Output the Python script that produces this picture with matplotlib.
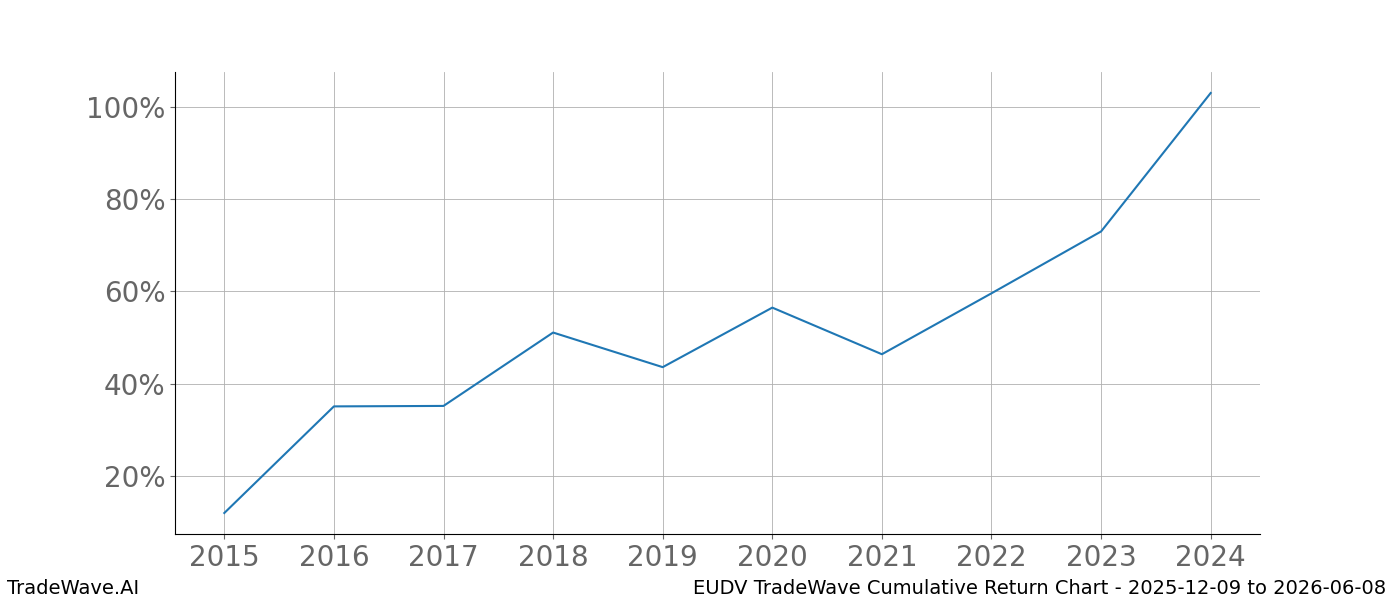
import matplotlib
matplotlib.use("Agg")
import matplotlib.pyplot as plt
from matplotlib.ticker import PercentFormatter

years = [2015, 2016, 2017, 2018, 2019, 2020, 2021, 2022, 2023, 2024]
cum_return = [12.0, 35.1, 35.2, 51.1, 43.6, 56.5, 46.4, 59.6, 73.0, 103.0]

fig, ax = plt.subplots(figsize=(14, 6), dpi=100)
ax.plot(years, cum_return, color="#1f77b4", lw=1.5)

ax.set_xticks(years)
ax.yaxis.set_major_formatter(PercentFormatter(decimals=0))
ax.tick_params(labelsize=20, colors="#666666")
ax.grid(True, color="#b0b0b0", lw=0.6)
for s in ("top", "right"):
    ax.spines[s].set_visible(False)

fig.text(0.005, 0.003, "TradeWave.AI", fontsize=14, ha="left", va="bottom")
fig.text(0.99, 0.003, "EUDV TradeWave Cumulative Return Chart - 2025-12-09 to 2026-06-08",
         fontsize=14, ha="right", va="bottom")

fig.subplots_adjust(left=0.125, right=0.9, top=0.88, bottom=0.11)
fig.savefig("out.png")
